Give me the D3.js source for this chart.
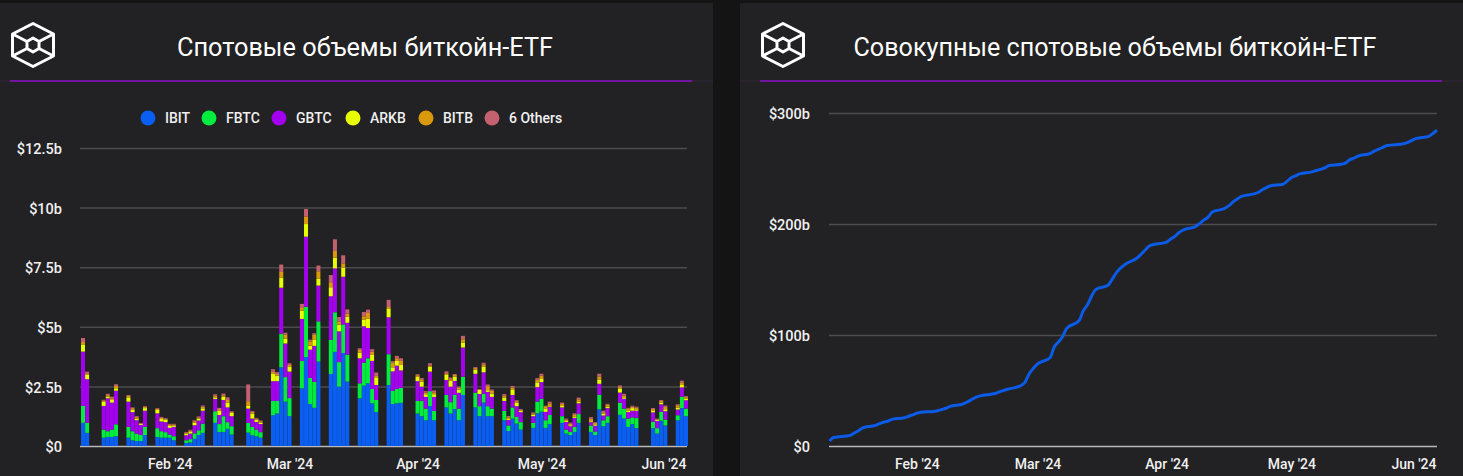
<!DOCTYPE html>
<html>
<head>
<meta charset="utf-8">
<script src="https://cdn.jsdelivr.net/npm/d3@7"></script>
<style>
html, body { margin: 0; background: #141414; overflow: hidden; }
svg { display: block; font-family: Roboto, sans-serif; }
</style>
</head>
<body>
<div id="chart"></div>
<script>
const tradingDays = [
  '2024-01-11','2024-01-12',
  '2024-01-16','2024-01-17','2024-01-18','2024-01-19',
  '2024-01-22','2024-01-23','2024-01-24','2024-01-25','2024-01-26',
  '2024-01-29','2024-01-30','2024-01-31','2024-02-01','2024-02-02',
  '2024-02-05','2024-02-06','2024-02-07','2024-02-08','2024-02-09',
  '2024-02-12','2024-02-13','2024-02-14','2024-02-15','2024-02-16',
  '2024-02-20','2024-02-21','2024-02-22','2024-02-23',
  '2024-02-26','2024-02-27','2024-02-28','2024-02-29','2024-03-01',
  '2024-03-04','2024-03-05','2024-03-06','2024-03-07','2024-03-08',
  '2024-03-11','2024-03-12','2024-03-13','2024-03-14','2024-03-15',
  '2024-03-18','2024-03-19','2024-03-20','2024-03-21','2024-03-22',
  '2024-03-25','2024-03-26','2024-03-27','2024-03-28',
  '2024-04-01','2024-04-02','2024-04-03','2024-04-04','2024-04-05',
  '2024-04-08','2024-04-09','2024-04-10','2024-04-11','2024-04-12',
  '2024-04-15','2024-04-16','2024-04-17','2024-04-18','2024-04-19',
  '2024-04-22','2024-04-23','2024-04-24','2024-04-25','2024-04-26',
  '2024-04-29','2024-04-30','2024-05-01','2024-05-02','2024-05-03',
  '2024-05-06','2024-05-07','2024-05-08','2024-05-09','2024-05-10',
  '2024-05-13','2024-05-14','2024-05-15','2024-05-16','2024-05-17',
  '2024-05-20','2024-05-21','2024-05-22','2024-05-23','2024-05-24',
  '2024-05-28','2024-05-29','2024-05-30','2024-05-31',
  '2024-06-03','2024-06-04','2024-06-05'
];

const ibit = [
  .97,.55,
  .35,.38,.38,.41,
  .35,.24,.21,.21,.46,
  .38,.35,.35,.35,.24,
  .13,.15,.30,.46,.55,
  .97,.58,.59,.72,.48,
  .56,.45,.41,.35,
  1.29,1.36,3.30,1.86,1.25,
  2.42,3.73,1.76,1.60,3.54,
  3.02,3.95,2.49,3.90,2.70,
  2.00,2.53,2.63,1.79,1.42,
  2.56,1.76,1.79,1.81,
  1.36,1.25,1.08,1.67,1.08,
  1.62,1.36,1.55,1.08,2.14,
  1.62,1.25,1.82,1.25,1.25,
  1.08,.63,1.15,.94,.69,
  .76,1.37,1.44,.76,.92,
  .97,.52,.46,.59,.97,
  .59,.46,1.54,.83,.97,
  1.31,1.15,.80,.92,.75,
  .75,.52,1.06,.86,
  1.08,1.59,1.25
];
const fbtc = [
  .71,.42,
  .34,.24,.31,.50,
  .45,.38,.31,.25,.34,
  .37,.27,.23,.13,.17,
  .11,.14,.23,.20,.39,
  .49,.34,.66,.28,.35,
  .41,.35,.28,.23,
  .60,.53,1.41,1.03,.76,
  1.15,2.11,1.10,1.10,1.69,
  1.43,1.66,1.03,1.20,1.13,
  .63,.97,1.05,.60,.51,
  1.29,.55,.60,.63,
  .53,.65,.49,.63,.39,
  .52,.48,.59,.49,.77,
  .62,.42,.37,.42,.32,
  .39,.23,.47,.28,.31,
  .21,.49,.54,.32,.38,
  .28,.17,.13,.21,.37,
  .27,.15,.61,.25,.28,
  .51,.42,.35,.28,.42,
  .27,.23,.37,.25,
  .21,.48,.32
];
const gbtc = [
  2.28,1.83,
  .99,1.38,1.13,1.41,
  1.06,.80,.56,.42,.68,
  .62,.41,.42,.28,.39,
  .21,.23,.34,.41,.54,
  .51,.38,.68,.62,.42,
  .60,.35,.32,.34,
  .83,.83,1.93,1.41,1.11,
  1.76,2.94,1.18,1.50,1.50,
  1.83,1.84,1.29,2.00,1.34,
  1.05,1.52,1.27,1.18,.63,
  1.55,.82,.98,.73,
  .83,.59,.49,.82,.59,
  .63,.65,.59,.66,1.22,
  .79,.51,.90,.60,.49,
  .42,.23,.52,.45,.42,
  .28,.61,.70,.35,.35,
  .37,.32,.24,.38,.45,
  .14,.24,.46,.20,.34,
  .42,.41,.27,.28,.31,
  .39,.30,.32,.35,
  .24,.39,.35
];
const arkb = [
  .30,.18,
  .17,.07,.11,.10,
  .18,.11,.06,.04,.11,
  .14,.10,.11,.08,.06,
  .07,.07,.11,.08,.10,
  .06,.18,.14,.20,.14,
  .11,.21,.10,.06,
  .32,.23,.42,.20,.21,
  .35,.53,.17,.25,.28,
  .38,.45,.28,.38,.25,
  .24,.28,.39,.25,.32,
  .37,.17,.20,.23,
  .18,.21,.11,.21,.11,
  .21,.24,.18,.14,.21,
  .17,.17,.23,.07,.14,
  .14,.04,.21,.15,.06,
  .06,.20,.13,.14,.03,
  .06,.04,.04,.04,.06,
  .04,.06,.17,.08,.06,
  .17,.06,.06,.11,.06,
  .06,.04,.07,.08,
  .08,.10,.07
];
const bitb = [
  .10,.07,
  .06,.06,.07,.10,
  .06,.06,.07,.03,.05,
  .05,.05,.03,.05,.04,
  .04,.05,.06,.05,.07,
  .08,.07,.06,.11,.04,
  .20,.07,.04,.06,
  .07,.07,.24,.18,.07,
  .11,.32,.18,.21,.32,
  .21,.28,.14,.18,.13,
  .11,.14,.24,.14,.06,
  .06,.18,.11,.17,
  .07,.07,.07,.04,.08,
  .07,.07,.07,.08,.14,
  .07,.03,.10,.17,.11,
  .08,.07,.10,.06,.03,
  .06,.11,.14,.10,.11,
  .08,.06,.07,.08,.11,
  .10,.06,.14,.06,.08,
  .06,.08,.08,.06,.06,
  .08,.03,.07,.10,
  .10,.11,.06
];
const others = [
  .17,.07,
  .03,.06,.07,.07,
  .04,.03,.04,.02,.03,
  .03,.04,.03,.04,.03,
  .03,.04,.04,.04,.05,
  .06,.05,.07,.11,.03,
  .70,.04,.03,.03,
  .11,.08,.31,.07,.07,
  .17,.31,.07,.07,.24,
  .30,.49,.18,.34,.18,
  .07,.18,.14,.10,.14,
  .30,.08,.10,.11,
  .04,.08,.06,.10,.08,
  .08,.07,.04,.04,.14,
  .04,.01,.07,.07,.06,
  .07,.06,.07,.04,.04,
  .04,.07,.08,.02,.07,
  .06,.04,.04,.07,.07,
  .07,.03,.11,.06,.04,
  .07,.07,.04,.04,.05,
  .04,.03,.04,.06,
  .04,.07,.04
];

// cumulative volume, $b
const cumulative = [
  4.5,7.7,
  9.6,11.8,13.8,16.4,
  18.5,20.1,21.4,22.3,24.0,
  25.5,26.8,28.0,29.5,30.5,
  31.1,31.8,32.9,34.0,35.7,
  37.8,39.4,41.6,43.6,45.0,
  47.5,49.0,50.2,51.3,
  54.4,57.5,65.1,70.0,74.0,
  79.5,89.2,93.6,98.4,105.9,
  113.1,121.8,127.2,135.2,140.9,
  145.0,150.6,156.4,160.4,163.5,
  169.6,173.2,177.0,180.6,
  183.7,186.5,188.8,192.3,194.6,
  197.8,200.6,203.7,206.2,210.8,
  214.1,216.5,220.0,222.5,224.9,
  227.1,228.4,230.9,232.8,234.4,
  235.8,238.6,241.7,243.4,245.2,
  247.0,248.2,249.2,250.5,252.6,
  253.8,254.8,257.8,259.3,261.1,
  263.6,265.8,267.4,269.1,270.7,
  272.3,273.5,275.4,277.1,
  278.9,281.6,284.5
];

const legendLabels = ['IBIT', 'FBTC', 'GBTC', 'ARKB', 'BITB', '6 Others'];
const barColors = ['#0a5ff2', '#00ec3f', '#a400f0', '#e8ff00', '#da980c', '#c4616f'];
const barTicks = [0, 2.5, 5, 7.5, 10, 12.5];
const barTickLabels = ['$0', '$2.5b', '$5b', '$7.5b', '$10b', '$12.5b'];
const lineTicks = [0, 100, 200, 300];
const lineTickLabels = ['$0', '$100b', '$200b', '$300b'];
const monthTicks = ['2024-02-01', '2024-03-01', '2024-04-01', '2024-05-01', '2024-06-01'];
const monthLabels = ["Feb '24", "Mar '24", "Apr '24", "May '24", "Jun '24"];
const titleLeft = 'Спотовые объемы биткойн-ETF';
const titleRight = 'Совокупные спотовые объемы биткойн-ETF';

const width = 1463, height = 476;
const parseDay = d3.utcParse('%Y-%m-%d');
const days = tradingDays.map(parseDay);
const baseY = 446;

const svg = d3.select('#chart').append('svg')
  .attr('width', width)
  .attr('height', height);

function drawPanel(x, w, title, titleX, titleW, logoX, ruleX0, ruleX1) {
  const panel = svg.append('g');
  panel.append('rect')
    .attr('x', x).attr('y', 3)
    .attr('width', w).attr('height', height - 3)
    .attr('fill', '#222123');
  panel.append('line')
    .attr('x1', x).attr('x2', x + w)
    .attr('y1', 81).attr('y2', 81)
    .attr('stroke', '#2f2436').attr('stroke-width', 1.5);
  panel.append('line')
    .attr('x1', ruleX0).attr('x2', ruleX1)
    .attr('y1', 81).attr('y2', 81)
    .attr('stroke', '#8a12c8').attr('stroke-width', 1.5);
  panel.append('text')
    .attr('x', titleX).attr('y', 55.5)
    .attr('text-anchor', 'middle')
    .attr('font-size', 26).attr('font-weight', 400)
    .attr('textLength', titleW).attr('lengthAdjust', 'spacingAndGlyphs')
    .attr('fill', '#fff')
    .text(title);

  // the logo: hexagon, small hexagon in the middle, corners joined to it
  const logo = panel.append('g')
    .attr('transform', `translate(${logoX},45)`)
    .attr('fill', 'none').attr('stroke', '#fff')
    .attr('stroke-width', 3).attr('stroke-linejoin', 'round');
  logo.append('path').attr('d', 'M0,-21.5 L20.5,-11 V11 L0,21.5 L-20.5,11 V-11 Z');
  logo.append('path').attr('d', 'M0,-7 L6,-3.5 V3.5 L0,7 L-6,3.5 V-3.5 Z');
  logo.append('path').attr('d', 'M-20.5,-11 L-6,-3.5 M20.5,-11 L6,-3.5 M-20.5,11 L-6,3.5 M20.5,11 L6,3.5');
}

function drawAxes(yScale, ticks, tickLabels, x0, x1, xScale, labelGap) {
  const yAxis = d3.axisLeft(yScale)
    .tickValues(ticks)
    .tickFormat((d, i) => tickLabels[i])
    .tickSize(-(x1 - x0))
    .tickPadding(labelGap);
  const yG = svg.append('g')
    .attr('transform', `translate(${x0},0)`)
    .call(yAxis);
  yG.select('.domain').remove();
  yG.selectAll('.tick line')
    .attr('stroke', d => d === 0 ? '#b9b9b9' : '#4c4b4d')
    .attr('stroke-width', 1.5);
  yG.selectAll('.tick text')
    .attr('y', 1)
    .attr('fill', '#f0f0f0')
    .attr('font-size', 14.5).attr('font-weight', 500)
    .attr('font-family', 'Roboto, sans-serif');

  const xAxis = d3.axisBottom(xScale)
    .tickValues(monthTicks.map(parseDay))
    .tickFormat((d, i) => monthLabels[i])
    .tickSize(0)
    .tickPadding(13);
  const xG = svg.append('g')
    .attr('transform', `translate(0,${baseY})`)
    .call(xAxis);
  xG.select('.domain').remove();
  xG.selectAll('.tick text')
    .attr('fill', '#f0f0f0')
    .attr('font-size', 14).attr('font-weight', 500)
    .attr('font-family', 'Roboto, sans-serif');
  // the last label is held inside the plot
  const lastTick = parseDay(monthTicks[monthTicks.length - 1]);
  xG.selectAll('.tick text').filter(d => +d === +lastTick)
    .attr('text-anchor', 'end')
    .attr('x', x1 - xScale(lastTick) - 1);
}

drawPanel(0, 713, titleLeft, 365, 376, 33, 10, 692);
drawPanel(740, 723, titleRight, 1115, 523, 783, 760, 1442);

// bars
const barX = d3.scaleUtc()
  .domain([days[0], days[days.length - 1]])
  .range([83, 686]);
const barY = d3.scaleLinear().domain([0, 12.5]).range([baseY, 148]);
drawAxes(barY, barTicks, barTickLabels, 80, 687, barX, 18);

const series = [ibit, fbtc, gbtc, arkb, bitb, others];
const rows = days.map((day, i) => {
  const row = { day: day };
  legendLabels.forEach((name, j) => { row[name] = series[j][i]; });
  return row;
});
const stacked = d3.stack().keys(legendLabels)(rows);

const barW = 4;
svg.append('g').selectAll('g')
  .data(stacked)
  .join('g')
    .attr('fill', (d, i) => barColors[i])
  .selectAll('rect')
  .data(d => d)
  .join('rect')
    .attr('x', d => barX(d.data.day) - barW / 2)
    .attr('width', barW)
    .attr('y', d => barY(d[1]))
    .attr('height', d => barY(d[0]) - barY(d[1]));

// legend
const legendCircleX = d3.scaleOrdinal().domain(legendLabels).range([148, 209, 279, 353, 426, 492]);
const legend = svg.append('g').selectAll('g')
  .data(legendLabels)
  .join('g')
    .attr('transform', d => `translate(${legendCircleX(d)},118)`);
legend.append('circle')
  .attr('r', 7.5)
  .attr('fill', (d, i) => barColors[i]);
legend.append('text')
  .attr('x', 17).attr('y', 5)
  .attr('font-size', 14).attr('font-weight', 500)
  .attr('fill', '#f0f0f0')
  .text(d => d);

// line
const lineX = d3.scaleUtc()
  .domain([days[0], days[days.length - 1]])
  .range([829.5, 1437]);
const lineY = d3.scaleLinear().domain([0, 300]).range([baseY, 113]);
drawAxes(lineY, lineTicks, lineTickLabels, 829, 1437, lineX, 19);

const line = d3.line()
  .x((d, i) => lineX(days[i]))
  .y(d => lineY(d))
  .curve(d3.curveMonotoneX);
svg.append('path')
  .datum(cumulative)
  .attr('d', line)
  .attr('fill', 'none')
  .attr('stroke', '#0b5be6')
  .attr('stroke-width', 3);
</script>
</body>
</html>
